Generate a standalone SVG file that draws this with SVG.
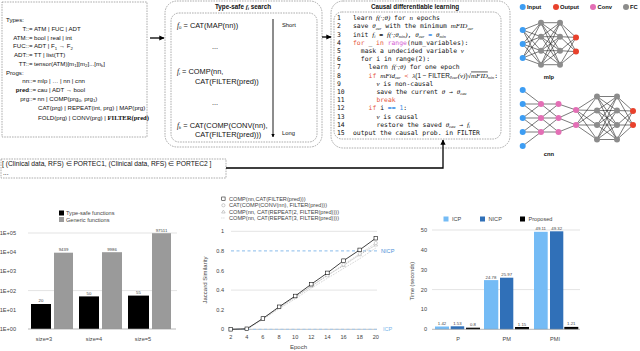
<svg xmlns="http://www.w3.org/2000/svg" width="640" height="351" viewBox="0 0 640 351">
<defs>
<marker id="ah" viewBox="0 0 10 10" refX="9" refY="5" markerWidth="4" markerHeight="4" orient="auto"><path d="M0,0 L10,5 L0,10 z" fill="#000"/></marker>
<style>
.s{font-family:"Liberation Sans",Arial,sans-serif;fill:#111}
.m{font-family:"DejaVu Sans Mono",monospace;font-size:6.4px;fill:#111}
.mi{font-family:"Liberation Serif",serif;font-style:italic;font-size:7px}
.sb{font-size:4.3px}
.red{fill:#e5533b}
.blu{fill:#3a8ee6}
.mag{fill:#d55ad3}
.box{fill:none;stroke:#8a8a8a;stroke-width:0.7;stroke-dasharray:1.6,1}
.ax{font-family:"Liberation Sans",Arial,sans-serif;font-size:5.6px;fill:#444}
.vl{font-family:"Liberation Sans",Arial,sans-serif;font-size:4.3px;fill:#444}
.grid{stroke:#d0d0d0;stroke-width:0.6}
.base{stroke:#999;stroke-width:0.7}
.e{stroke:#222;stroke-width:0.6;fill:none}
.in{fill:#3d9df3}.out{fill:#e8412c}.cv{fill:#e36fb5}.fc{fill:#8c8c8c}
</style>
</defs>

<!-- Types / Progs grammar box -->
<g id="grammar">
<rect class="box" x="2" y="2" width="145" height="135"/>
<g class="s" font-size="6.1">
<text x="6" y="22">Types:</text>
<text x="32.5" y="31" text-anchor="end">T::=</text><text x="34" y="31">ATM | FUC | ADT</text>
<text x="32.5" y="39.7" text-anchor="end">ATM::=</text><text x="34" y="39.7">bool | real | int</text>
<text x="32.5" y="48.4" text-anchor="end">FUC::=</text><text x="34" y="48.4">ADT | F<tspan class="sb" dy="1.2">1</tspan><tspan dy="-1.2"> → F</tspan><tspan class="sb" dy="1.2">2</tspan></text>
<text x="32.5" y="57.1" text-anchor="end">ADT::=</text><text x="34" y="57.1">TT | list(TT)</text>
<text x="32.5" y="65.8" text-anchor="end">TT::=</text><text x="34" y="65.8">tensor(ATM)[m<tspan class="sb" dy="1.2">1</tspan><tspan dy="-1.2">][m</tspan><tspan class="sb" dy="1.2">2</tspan><tspan dy="-1.2">]...[m</tspan><tspan class="sb" dy="1.2">k</tspan><tspan dy="-1.2">]</tspan></text>
<text x="6" y="74.5">Progs:</text>
<text x="36" y="83.2" text-anchor="end">nn::=</text><text x="37.5" y="83.2">mlp | … | nn | cnn</text>
<text x="36" y="91.9" text-anchor="end"><tspan font-weight="bold">pred</tspan>::=</text><text x="37.5" y="91.9">cau | ADT → bool</text>
<text x="36" y="100.6" text-anchor="end">prg::=</text><text x="37.5" y="100.6">nn | COMP(prg<tspan class="sb" dy="1.2">0</tspan><tspan dy="-1.2">, prg</tspan><tspan class="sb" dy="1.2">1</tspan><tspan dy="-1.2">)</tspan></text>
<text x="38" y="110">CAT(prg) | REPEAT(int, prg) | MAP(prg)</text>
<text x="38" y="119.5">FOLD(prg) | CONV(prg) | <tspan font-family="Liberation Serif,serif" font-weight="bold" font-size="6.6">FILTER(pred)</tspan></text>
</g>
</g>

<!-- Type-safe search -->
<g id="typesafe">
<rect class="box" x="165" y="1" width="157" height="146" rx="12"/>
<rect class="box" x="171" y="13" width="146" height="129" rx="8"/>
<text class="s" x="243" y="8.5" font-size="6.3" font-weight="bold" text-anchor="middle">Type-safe <tspan font-family="Liberation Serif,serif" font-style="italic">f</tspan><tspan class="sb" dy="1.2" font-style="italic">i</tspan><tspan dy="-1.2"> search</tspan></text>
<g class="s" font-size="7.4">
<text x="177" y="27.5"><tspan font-family="Liberation Serif,serif" font-style="italic">f</tspan><tspan class="sb" dy="1.3">0</tspan><tspan dy="-1.3"> = CAT(MAP(nn))</tspan></text>
<text x="212" y="49">...</text>
<text x="177" y="74"><tspan font-family="Liberation Serif,serif" font-style="italic">f</tspan><tspan class="sb" dy="1.3" font-style="italic">i</tspan><tspan dy="-1.3"> = COMP(nn,</tspan></text>
<text x="195" y="84">CAT(FILTER(pred))</text>
<text x="212" y="105">...</text>
<text x="177" y="127.5"><tspan font-family="Liberation Serif,serif" font-style="italic">f</tspan><tspan class="sb" dy="1.3" font-style="italic">k</tspan><tspan dy="-1.3"> = CAT(COMP(CONV(nn),</tspan></text>
<text x="195" y="137">CAT(FILTER(pred)))</text>
</g>
<line x1="273" y1="19" x2="273" y2="137" stroke="#000" stroke-width="0.9" marker-end="url(#ah)"/>
<text class="s" x="282" y="27" font-size="5.8">Short</text>
<text class="s" x="282" y="134.5" font-size="5.8">Long</text>
</g>

<!-- Causal differentiable learning -->
<g id="causal">
<rect class="box" x="331" y="1" width="179" height="147" rx="12"/>
<rect class="box" x="334" y="12" width="167" height="127" rx="8"/>
<text class="s" x="415" y="8.5" font-size="6.3" font-weight="bold" text-anchor="middle">Causal differentiable learning</text>
<g class="m">
<text x="337" y="20.2">1</text><text x="337" y="28.4">2</text><text x="337" y="36.6">3</text><text x="337" y="44.8">4</text><text x="337" y="53">5</text><text x="337" y="61.2">6</text><text x="337" y="69.4">7</text><text x="337" y="77.6">8</text><text x="337" y="85.8">9</text><text x="337" y="94">10</text><text x="337" y="102.2">11</text><text x="337" y="110.4">12</text><text x="337" y="118.6">13</text><text x="337" y="126.8">14</text><text x="337" y="135">15</text>
<text x="353" y="20.2">learn <tspan class="mi">f</tspan><tspan class="mi">(·;θ)</tspan> for <tspan class="mi">n</tspan> epochs</text>
<text x="353" y="28.4">save <tspan class="mi">θ</tspan><tspan class="mi sb" dy="1.2">cur</tspan><tspan dy="-1.2"> with the minimum </tspan><tspan class="mi">mFID</tspan><tspan class="mi sb" dy="1.2">cur</tspan></text>
<text x="353" y="36.6">init <tspan class="mi">f</tspan><tspan class="mi sb" dy="1.2">i</tspan><tspan dy="-1.2"> = </tspan><tspan class="mi">f(·;θ</tspan><tspan class="mi sb" dy="1.2">min</tspan><tspan class="mi" dy="-1.2">)</tspan>, <tspan class="mi">θ</tspan><tspan class="mi sb" dy="1.2">cur</tspan><tspan class="blu" dy="-1.2"> = </tspan><tspan class="mi">θ</tspan><tspan class="mi sb" dy="1.2">min</tspan></text>
<text x="353" y="44.8"><tspan class="red">for</tspan> _ <tspan class="red">in</tspan> <tspan class="mag">range</tspan>(num_variables):</text>
<text x="360.8" y="53">mask a undecided variable <tspan class="mi">v</tspan></text>
<text x="360.8" y="61.2">for i in range(2):</text>
<text x="368.6" y="69.4">learn <tspan class="mi">f(·;θ)</tspan> for one epoch</text>
<text x="368.6" y="77.6"><tspan class="red">if</tspan> <tspan class="mi">mFid</tspan><tspan class="mi sb" dy="1.2">cur</tspan><tspan class="red" dy="-1.2"> &lt; </tspan><tspan class="mi">λ</tspan><tspan font-family="Liberation Sans,sans-serif" font-size="6.4">(1 − FILTER</tspan><tspan class="mi sb" dy="1.2">θcur</tspan><tspan class="mi" dy="-1.2">(v)</tspan><tspan font-family="Liberation Sans,sans-serif" font-size="6.4">)√</tspan><tspan class="mi" text-decoration="overline">mFID</tspan><tspan class="mi sb" dy="1.2">min</tspan><tspan dy="-1.2">:</tspan></text>
<text x="376.4" y="85.8"><tspan class="mi">v</tspan> is non-causal</text>
<text x="376.4" y="94">save the current <tspan class="mi">θ</tspan> → <tspan class="mi">θ</tspan><tspan class="mi sb" dy="1.2">cau</tspan></text>
<text x="376.4" y="102.2" class="red">break</text>
<text x="368.6" y="110.4"><tspan class="red">if</tspan> i <tspan class="blu">==</tspan> <tspan class="blu">1</tspan>:</text>
<text x="376.4" y="118.6"><tspan class="mi">v</tspan> is causal</text>
<text x="376.4" y="126.8">restore the saved <tspan class="mi">θ</tspan><tspan class="mi sb" dy="1.2">cau</tspan><tspan dy="-1.2"> → </tspan><tspan class="mi">f</tspan><tspan class="mi sb" dy="1.2">i</tspan></text>
<text x="353" y="135">output the causal prob. in FILTER</text>
</g>
</g>

<!-- Data box -->
<g id="data">
<rect class="box" x="1" y="159" width="225" height="19"/>
<text class="s" x="2" y="166" font-size="6.7">[ (Clinical data, RFS) ∈ PORTEC1,  (Clinical data, RFS) ∈ PORTEC2 ]</text>
<text class="s" x="3" y="175" font-size="6.7">...</text>
</g>

<!-- connectors -->
<g id="connectors" fill="none" stroke="#000">
<line x1="150" y1="38" x2="164" y2="38" stroke-width="1.3" marker-end="url(#ah)"/>
<line x1="322" y1="37" x2="331" y2="37" stroke-width="1.3" marker-end="url(#ah)"/>
<polyline points="226,168 443,168 443,140" stroke-width="1.3" marker-end="url(#ah)"/>
</g>

<!-- Legend for networks -->
<g id="netlegend">
<circle class="in" cx="522.7" cy="7" r="3"/><text class="s" x="527" y="9" font-size="5.8" font-weight="bold">Input</text>
<circle class="out" cx="556" cy="7" r="3"/><text class="s" x="560" y="9" font-size="5.8" font-weight="bold">Output</text>
<circle class="cv" cx="593" cy="7" r="3"/><text class="s" x="597.5" y="9" font-size="5.8" font-weight="bold">Conv</text>
<circle class="fc" cx="626" cy="7" r="3"/><text class="s" x="630" y="9" font-size="5.8" font-weight="bold">FC</text>
</g>

<!-- mlp -->
<g id="mlp">
<path class="e" d="M522.7,30L541,22.7M522.7,30L541,36.7M522.7,30L541,50.7M522.7,30L541,64.7M522.7,44L541,22.7M522.7,44L541,36.7M522.7,44L541,50.7M522.7,44L541,64.7M522.7,58L541,22.7M522.7,58L541,36.7M522.7,58L541,50.7M522.7,58L541,64.7
M541,22.7L560,22.7M541,22.7L560,36.7M541,22.7L560,50.7M541,22.7L560,64.7M541,36.7L560,22.7M541,36.7L560,36.7M541,36.7L560,50.7M541,36.7L560,64.7M541,50.7L560,22.7M541,50.7L560,36.7M541,50.7L560,50.7M541,50.7L560,64.7M541,64.7L560,22.7M541,64.7L560,36.7M541,64.7L560,50.7M541,64.7L560,64.7
M560,22.7L576,37.4M560,22.7L576,51.6M560,36.7L576,37.4M560,36.7L576,51.6M560,50.7L576,37.4M560,50.7L576,51.6M560,64.7L576,37.4M560,64.7L576,51.6"/>
<circle class="in" cx="522.7" cy="30" r="3"/><circle class="in" cx="522.7" cy="44" r="3"/><circle class="in" cx="522.7" cy="58" r="3"/>
<circle class="fc" cx="541" cy="22.7" r="3"/><circle class="fc" cx="541" cy="36.7" r="3"/><circle class="fc" cx="541" cy="50.7" r="3"/><circle class="fc" cx="541" cy="64.7" r="3"/>
<circle class="fc" cx="560" cy="22.7" r="3"/><circle class="fc" cx="560" cy="36.7" r="3"/><circle class="fc" cx="560" cy="50.7" r="3"/><circle class="fc" cx="560" cy="64.7" r="3"/>
<circle class="out" cx="576" cy="37.4" r="3"/><circle class="out" cx="576" cy="51.6" r="3"/>
<text class="s" x="549" y="79" font-size="5.8" font-weight="bold" text-anchor="middle">mlp</text>
</g>

<!-- cnn -->
<g id="cnn">
<path class="e" d="M522.7,90L541,104M522.7,104L541,104M522.7,118L541,104M522.7,104L541,118M522.7,118L541,118M522.7,132L541,118M522.7,118L541,132M522.7,132L541,132M522.7,146L541,132
M541,104L558.5,104M541,104L558.5,118M541,118L558.5,104M541,118L558.5,118M541,118L558.5,132M541,132L558.5,118M541,132L558.5,132
M558.5,104L576,110M558.5,118L576,110M558.5,118L576,125M558.5,132L576,125
M576,110L597,96.5M576,110L597,110.5M576,110L597,125M576,110L597,139.5M576,125L597,96.5M576,125L597,110.5M576,125L597,125M576,125L597,139.5
M597,96.5L617,96.5M597,96.5L617,110.5M597,96.5L617,125M597,96.5L617,139.5M597,110.5L617,96.5M597,110.5L617,110.5M597,110.5L617,125M597,110.5L617,139.5M597,125L617,96.5M597,125L617,110.5M597,125L617,125M597,125L617,139.5M597,139.5L617,96.5M597,139.5L617,110.5M597,139.5L617,125M597,139.5L617,139.5
M617,96.5L633,111M617,96.5L633,125M617,110.5L633,111M617,110.5L633,125M617,125L633,111M617,125L633,125M617,139.5L633,111M617,139.5L633,125"/>
<circle class="in" cx="522.7" cy="90" r="3"/><circle class="in" cx="522.7" cy="104" r="3"/><circle class="in" cx="522.7" cy="118" r="3"/><circle class="in" cx="522.7" cy="132" r="3"/><circle class="in" cx="522.7" cy="146" r="3"/>
<circle class="cv" cx="541" cy="104" r="3"/><circle class="cv" cx="541" cy="118" r="3"/><circle class="cv" cx="541" cy="132" r="3"/>
<circle class="cv" cx="558.5" cy="104" r="3"/><circle class="cv" cx="558.5" cy="118" r="3"/><circle class="cv" cx="558.5" cy="132" r="3"/>
<circle class="cv" cx="576" cy="110" r="3"/><circle class="cv" cx="576" cy="125" r="3"/>
<circle class="fc" cx="597" cy="96.5" r="3"/><circle class="fc" cx="597" cy="110.5" r="3"/><circle class="fc" cx="597" cy="125" r="3"/><circle class="fc" cx="597" cy="139.5" r="3"/>
<circle class="fc" cx="617" cy="96.5" r="3"/><circle class="fc" cx="617" cy="110.5" r="3"/><circle class="fc" cx="617" cy="125" r="3"/><circle class="fc" cx="617" cy="139.5" r="3"/>
<circle class="out" cx="633" cy="111" r="3"/><circle class="out" cx="633" cy="125" r="3"/>
<text class="s" x="549" y="156" font-size="5.8" font-weight="bold" text-anchor="middle">cnn</text>
</g>

<!-- Chart 1: function counts -->
<g id="chart-counts">
<rect x="59" y="210.5" width="5" height="5" fill="#000"/><text class="ax" x="66" y="215">Type-safe functions</text>
<rect x="59" y="217" width="5" height="5" fill="#9a9a9a"/><text class="ax" x="66" y="221.5">Generic functions</text>
<line class="grid" x1="28" y1="233" x2="177" y2="233"/>
<line class="grid" x1="28" y1="290.6" x2="177" y2="290.6"/>
<text class="ax" x="16" y="235" text-anchor="end">1E+05</text>
<text class="ax" x="16" y="254.2" text-anchor="end">1E+04</text>
<text class="ax" x="16" y="273.4" text-anchor="end">1E+03</text>
<text class="ax" x="16" y="292.6" text-anchor="end">1E+02</text>
<text class="ax" x="16" y="311.8" text-anchor="end">1E+01</text>
<text class="ax" x="16" y="331" text-anchor="end">1E+00</text>
<rect x="31" y="304" width="20" height="25" fill="#000"/>
<rect x="54" y="252.7" width="19" height="76.3" fill="#9a9a9a"/>
<rect x="79" y="296.4" width="20" height="32.6" fill="#000"/>
<rect x="102" y="252.2" width="20" height="76.8" fill="#9a9a9a"/>
<rect x="128" y="295.6" width="21" height="33.4" fill="#000"/>
<rect x="152" y="233.2" width="19" height="95.8" fill="#9a9a9a"/>
<line class="base" x1="28" y1="329" x2="176" y2="329"/>
<g class="vl" text-anchor="middle">
<text x="41" y="302.3">20</text><text x="63.5" y="251">9439</text>
<text x="89" y="294.7">50</text><text x="112" y="250.5">9986</text>
<text x="138.5" y="293.9">55</text><text x="161.5" y="231.5">97511</text>
</g>
<g class="ax" text-anchor="middle" font-size="6">
<text x="44" y="340.5">size=3</text><text x="94" y="340.5">size=4</text><text x="143" y="340.5">size=5</text>
</g>
</g>

<!-- Chart 2: Jaccard similarity -->
<g id="chart-jaccard">
<rect x="221.7" y="197" width="3.4" height="3.4" fill="#fff" stroke="#222" stroke-width="0.6"/>
<text class="ax" x="229" y="201">COMP(nn,CAT(FILTER(pred)))</text>
<circle cx="223.4" cy="205.3" r="1.6" fill="#fff" stroke="#aaa" stroke-width="0.6"/>
<text class="ax" x="229" y="207.3">CAT(COMP(CONV(nn), FILTER(pred)))</text>
<path d="M223.4,210.1 L225.2,213 L221.6,213 Z" fill="#fff" stroke="#aaa" stroke-width="0.6"/>
<text class="ax" x="229" y="213.6">COMP(nn, CAT(REPEAT(2, FILTER(pred))))</text>
<line x1="221.5" y1="218" x2="225.5" y2="218" stroke="#aaa" stroke-width="0.7" stroke-dasharray="0.8,1.2"/>
<text class="ax" x="229" y="219.9">COMP(nn, CAT(REPEAT(3, FILTER(pred))))</text>
<line class="grid" x1="231" y1="231.3" x2="377" y2="231.3"/>
<line class="grid" x1="231" y1="290.1" x2="377" y2="290.1"/>
<line x1="231" y1="329.3" x2="377" y2="329.3" stroke="#999" stroke-width="0.6"/>
<line x1="231" y1="250.9" x2="377" y2="250.9" stroke="#6aaae6" stroke-width="0.8" stroke-dasharray="3,2.5"/>
<line x1="231" y1="329.3" x2="377" y2="329.3" stroke="#9fcaf0" stroke-width="0.9" stroke-dasharray="3,2.5"/>
<text class="ax" x="381" y="252.5" style="fill:#4a8fd8">NICP</text>
<text class="ax" x="383" y="331.2" style="fill:#7ab5ea">ICP</text>
<g class="ax" text-anchor="end">
<text x="224" y="233.3">1</text><text x="224" y="252.9">0.8</text><text x="224" y="272.5">0.6</text><text x="224" y="292.1">0.4</text><text x="224" y="311.7">0.2</text><text x="224" y="331.3">0</text>
</g>
<g class="ax" text-anchor="middle">
<text x="230.7" y="339">2</text><text x="246.8" y="339">4</text><text x="262.9" y="339">6</text><text x="279.1" y="339">8</text><text x="295.2" y="339">10</text><text x="311.3" y="339">12</text><text x="327.4" y="339">14</text><text x="343.5" y="339">16</text><text x="359.7" y="339">18</text><text x="375.8" y="339">20</text>
<text x="298.5" y="348.5" font-size="6">Epoch</text>
<text transform="translate(207,280) rotate(-90)" font-size="6">Jaccard Similarity</text>
</g>
<polyline fill="none" stroke="#aaa" stroke-width="0.7" stroke-dasharray="0.8,1.2" points="230.7,329.3 246.8,329.3 262.9,319.5 279.1,308.7 295.2,298.9 311.3,288.1 327.4,278.3 343.5,268.5 359.7,258.7 375.8,248"/>
<polyline fill="none" stroke="#aaa" stroke-width="0.7" stroke-dasharray="1.5,1" points="230.7,329.3 246.8,329.3 262.9,318.5 279.1,307.7 295.2,297 311.3,286.2 327.4,275.4 343.5,265.6 359.7,254.8 375.8,245"/>
<polyline fill="none" stroke="#bbb" stroke-width="0.7" stroke-dasharray="1,1" points="230.7,329.3 246.8,329.3 262.9,318.5 279.1,307.7 295.2,297 311.3,286.2 327.4,275.4 343.5,264.6 359.7,253.8 375.8,243"/>
<g fill="#fff" stroke="#aaa" stroke-width="0.5">
<path d="M262.9,316.5l1.8,3l-3.6,0z M279.1,305.7l1.8,3l-3.6,0z M295.2,295l1.8,3l-3.6,0z M311.3,284.2l1.8,3l-3.6,0z M327.4,273.4l1.8,3l-3.6,0z M343.5,263.6l1.8,3l-3.6,0z M359.7,252.8l1.8,3l-3.6,0z M375.8,243l1.8,3l-3.6,0z"/>
<circle cx="343.5" cy="264.6" r="1.6"/><circle cx="359.7" cy="253.8" r="1.6"/><circle cx="375.8" cy="243" r="1.6"/><circle cx="327.4" cy="275.4" r="1.6"/>
</g>
<polyline fill="none" stroke="#111" stroke-width="0.8" points="230.7,329.3 246.8,328.8 262.9,318.5 279.1,306.8 295.2,296 311.3,284.2 327.4,272.9 343.5,260.7 359.7,249.9 375.8,238.2"/>
<g fill="#fff" stroke="#111" stroke-width="0.6">
<rect x="228.9" y="327.5" width="3.6" height="3.6"/><rect x="245" y="327" width="3.6" height="3.6"/><rect x="261.1" y="316.7" width="3.6" height="3.6"/><rect x="277.3" y="305" width="3.6" height="3.6"/><rect x="293.4" y="294.2" width="3.6" height="3.6"/><rect x="309.5" y="282.4" width="3.6" height="3.6"/><rect x="325.6" y="271.1" width="3.6" height="3.6"/><rect x="341.7" y="258.9" width="3.6" height="3.6"/><rect x="357.9" y="248.1" width="3.6" height="3.6"/><rect x="374" y="236.4" width="3.6" height="3.6"/>
</g>
</g>

<!-- Chart 3: time -->
<g id="chart-time">
<rect x="443.5" y="216.5" width="5" height="5" fill="#74bbf5"/><text class="ax" x="452" y="221">ICP</text>
<rect x="480" y="216.5" width="5" height="5" fill="#3070b8"/><text class="ax" x="488.5" y="221">NICP</text>
<rect x="520" y="216.5" width="5" height="5" fill="#000"/><text class="ax" x="528.5" y="221">Proposed</text>
<line class="grid" x1="432" y1="230" x2="580" y2="230"/>
<line class="grid" x1="432" y1="289.6" x2="580" y2="289.6"/>
<g class="ax" text-anchor="end">
<text x="427" y="232">50</text><text x="427" y="251.8">40</text><text x="427" y="271.7">30</text><text x="427" y="291.6">20</text><text x="427" y="311.4">10</text><text x="427" y="331.3">0</text>
</g>
<text class="ax" transform="translate(414,281) rotate(-90)" text-anchor="middle" font-size="6">Time (seconds)</text>
<rect x="435" y="326.5" width="14" height="2.8" fill="#74bbf5"/>
<rect x="450.7" y="326.3" width="13.5" height="3" fill="#3070b8"/>
<rect x="466" y="327.7" width="14" height="1.6" fill="#000"/>
<rect x="484" y="280.1" width="14.3" height="49.2" fill="#74bbf5"/>
<rect x="500" y="277.7" width="13.3" height="51.6" fill="#3070b8"/>
<rect x="515" y="327" width="14" height="2.3" fill="#000"/>
<rect x="534" y="231.8" width="13.7" height="97.5" fill="#74bbf5"/>
<rect x="550" y="231.3" width="13.3" height="98" fill="#3070b8"/>
<rect x="564.3" y="326.9" width="14" height="2.4" fill="#000"/>
<line class="base" x1="432" y1="329.3" x2="580" y2="329.3"/>
<g class="vl" text-anchor="middle">
<text x="442" y="325">1.42</text><text x="457.4" y="324.8">1.53</text><text x="473" y="326.2">0.8</text>
<text x="491" y="278.6">24.78</text><text x="506.7" y="276.2">25.97</text><text x="522" y="325.5">1.15</text>
<text x="540.8" y="230.2">49.11</text><text x="556.7" y="229.8">49.32</text><text x="571.3" y="325.4">1.21</text>
</g>
<g class="ax" text-anchor="middle" font-size="6">
<text x="458" y="340.5">P</text><text x="506.7" y="340.5">PM</text><text x="555" y="340.5">PMI</text>
</g>
</g>
</svg>
